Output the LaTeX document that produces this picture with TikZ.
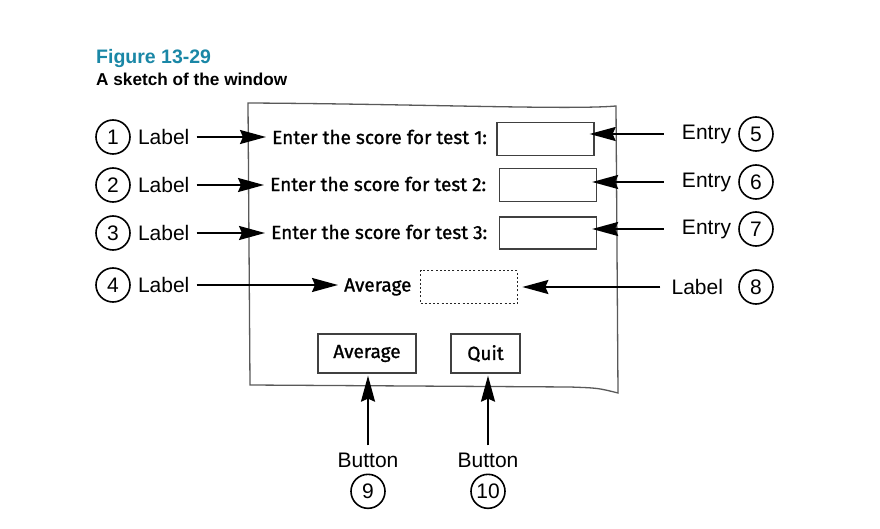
\documentclass[tikz,border=0pt]{standalone}
\usepackage{fontspec}
\setmainfont{Liberation Sans}
\newfontfamily\sketchfont[FakeBold=1.2]{Fira Sans}
\usepackage{xcolor}
\usetikzlibrary{arrows.meta, positioning}
\definecolor{figteal}{HTML}{1A87A6}

\begin{document}
\begin{tikzpicture}[x=1pt, y=-1pt, >={Stealth[length=26pt, width=14pt, inset=3pt]},
    tag/.style={font=\fontsize{21}{24}\selectfont, inner sep=2pt},
    num/.style={draw, circle, line width=1.6pt, minimum size=34pt, inner sep=0pt, font=\fontsize{21}{24}\selectfont},
    prompt/.style={font=\sketchfont\fontsize{19}{22}\selectfont, inner sep=6pt},
    field/.style={draw=black!75, line width=1.3pt, minimum width=97pt, minimum height=33pt},
    button/.style={draw=black!75, line width=1.3pt, minimum height=39pt, font=\sketchfont\fontsize{19}{22}\selectfont},
    arr/.style={->, line width=1.9pt}]
  \useasboundingbox (0,0) rectangle (880,529);
  % heading
  \node[anchor=base west, inner sep=0pt, text=figteal, font=\fontsize{19.5}{22}\selectfont\bfseries] (fig) at (96,64) {Figure 13-29};
  \node[anchor=base west, inner sep=0pt, font=\fontsize{17.2}{20}\selectfont\bfseries] (sub) at (96,86) {A sketch of the window};
  % the window
  \draw[black!65, line width=1.3pt] (248,103) .. controls (420,104) and (570,110) .. (616,106)
    -- (618,393) .. controls (598,388) .. (570,387) -- (250,385) -- cycle;
  \node[prompt, anchor=west] (p1) at (266,137) {Enter the score for test 1:};
  \node[prompt, anchor=west] (p2) at (264,184) {Enter the score for test 2:};
  \node[prompt, anchor=west] (p3) at (265,232) {Enter the score for test 3:};
  \node[field] (f1) at (545.5,139) {};
  \node[field] (f2) at (548,185) {};
  \node[field, minimum height=32pt] (f3) at (548,233) {};
  \node[field, draw=black!85, line width=1.7pt, dash pattern=on 2pt off 2.2pt] (avgout) at (469,287) {};
  \node[prompt, inner sep=2pt, left=6pt of avgout] (avglab) {Average};
  \node[button, minimum width=98pt] (bavg) at (367,353.5) {Average};
  \node[button, minimum width=69pt] (bquit) at (485.5,353.5) {Quit};
  % left callouts
  \foreach \i/\y in {1/137, 2/185, 3/233, 4/285} {
    \node[num] (n\i) at (113,\y) {\i};
    \node[tag, right=5pt of n\i] (l\i) {Label};
  }
  % right callouts
  \foreach \i/\y in {5/134, 6/182, 7/229} {
    \node[num] (n\i) at (756,\y) {\i};
    \node[tag, left=5pt of n\i] (l\i) {Entry};
  }
  \node[num] (n8) at (756,287) {8};
  \node[tag, left=13pt of n8] (l8) {Label};
  % bottom callouts
  \node[tag] (l9) at (368,460) {Button};
  \node[num, below=4pt of l9] (n9) {9};
  \node[tag] (l10) at (488,460) {Button};
  \node[num, below=4pt of l10] (n10) {10};
  % arrows
  \draw[arr, shorten <=5pt] (l1.east) -- (l1.east -| p1.west);
  \draw[arr, shorten <=5pt] (l2.east) -- (l2.east -| p2.west);
  \draw[arr, shorten <=5pt] (l3.east) -- (l3.east -| p3.west);
  \draw[arr, shorten <=5pt, shorten >=4pt] (l4.east) -- (l4.east -| avglab.west);
  \draw[arr, shorten <=16pt, shorten >=-5pt] (l5.west) -- (l5.west -| f1.east);
  \draw[arr, shorten <=16pt, shorten >=-5pt] (l6.west) -- (l6.west -| f2.east);
  \draw[arr, shorten <=16pt, shorten >=-5pt] (l7.west) -- (l7.west -| f3.east);
  \draw[arr, shorten <=9pt, shorten >=4pt] (l8.west) -- (l8.west -| avgout.east);
  \draw[arr, shorten <=5pt, shorten >=2pt] (l9.north) -- (l9.north |- bavg.south);
  \draw[arr, shorten <=5pt, shorten >=2pt] (l10.north) -- (l10.north |- bquit.south);
\end{tikzpicture}
\end{document}
